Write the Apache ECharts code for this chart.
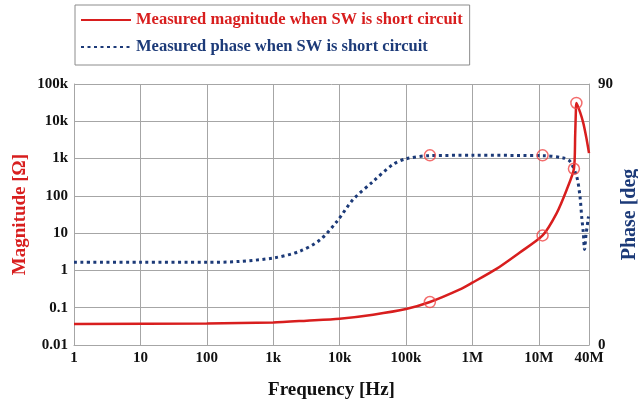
<!DOCTYPE html>
<html>
<head>
<meta charset="utf-8">
<script src="https://cdn.jsdelivr.net/npm/echarts@6/dist/echarts.min.js"></script>
<style>
  html, body { margin: 0; padding: 0; background: #fff; }
  #chart { width: 638px; height: 405px; }
</style>
</head>
<body>
<div id="chart"></div>
<script>
// frequency [Hz], magnitude [ohm]
var magnitude = [
    [1, 0.0366], [100, 0.0378], [1000, 0.0403], [3200, 0.045], [10000, 0.0507],
    [32000, 0.065], [100000, 0.092], [229000, 0.142], [650000, 0.31], [1e6, 0.47],
    [2.3e6, 1.1], [5e6, 2.9], [11.4e6, 8.67], [18.6e6, 34.6], [26.3e6, 146],
    [33.8e6, 533], [35.3e6, 4300], [36.2e6, 20000], [36.8e6, 31000], [41.7e6, 17800],
    [46.8e6, 8900], [52e6, 3600], [57e6, 1400]
];
// frequency [Hz], phase [deg]
var phase = [
    [1, 28.5], [10, 28.5], [100, 28.5], [300, 28.8], [1000, 30.0], [2500, 32.3],
    [5100, 36.3], [9100, 42.6], [15900, 50.1], [32000, 56.4], [63000, 62.2],
    [100000, 64.2], [229000, 65.3], [1e6, 65.4], [11.4e6, 65.3], [23.4e6, 64.5],
    [29.5e6, 63.3], [37.2e6, 58.1], [41.7e6, 51.2], [44.2e6, 44.3], [46.8e6, 38.7],
    [48.8e6, 32.9], [51.4e6, 38], [56e6, 44.3]
];
var magMarkers = [[229000, 0.142], [11.4e6, 8.67], [33.8e6, 533], [36.8e6, 31000]];
var phaseMarkers = [[229000, 65.4], [11.4e6, 65.4]];

var xTickLabels = ['1', '10', '100', '1k', '10k', '100k', '1M', '10M', '40M'];
var yTickLabels = ['0.01', '0.1', '1', '10', '100', '1k', '10k', '100k'];

var serif = '"Liberation Serif", "Times New Roman", serif';
var red = '#d81e1e';
var navy = '#1c3a78';
var gridGray = '#a6a6a6';

var magName = 'Measured magnitude when SW is short circuit';
var phaseName = 'Measured phase when SW is short circuit';

var chart = echarts.init(document.getElementById('chart'));
chart.setOption({
    animation: false,
    grid: { left: 74, right: 49, top: 84, bottom: 60, outerBoundsMode: 'none', containLabel: false },
    legend: {
        orient: 'vertical',
        left: 75,
        top: 5,
        padding: [5, 7, 8, 5],
        itemWidth: 50,
        itemHeight: 14,
        itemGap: 7,
        borderColor: '#8c8c8c',
        borderWidth: 1,
        borderRadius: 0,
        backgroundColor: '#fff',
        itemStyle: { opacity: 0 },
        textStyle: { fontFamily: serif, fontWeight: 'bold', fontSize: 16.5, lineHeight: 20 },
        data: [
            { name: magName, textStyle: { color: red } },
            { name: phaseName, textStyle: { color: navy } }
        ]
    },
    xAxis: {
        type: 'log',
        logBase: 10,
        min: 1,
        max: 5.7e7,
        name: 'Frequency [Hz]',
        nameLocation: 'middle',
        nameGap: 36,
        nameMoveOverlap: false,
        nameTextStyle: { fontFamily: serif, fontWeight: 'bold', fontSize: 19, color: '#111' },
        axisLine: { lineStyle: { color: gridGray } },
        axisTick: { show: false },
        splitLine: { show: true, lineStyle: { color: gridGray } },
        axisLabel: {
            fontFamily: serif, fontWeight: 'bold', fontSize: 15, color: '#111', margin: 6,
            showMaxLabel: true,
            formatter: function (v) {
                var k = Math.log10(v);
                if (k > 7.3) return xTickLabels[8];
                return xTickLabels[Math.round(k)];
            }
        }
    },
    yAxis: [{
        type: 'log',
        logBase: 10,
        min: 0.01,
        max: 100000,
        name: 'Magnitude [Ω]',
        nameLocation: 'middle',
        nameRotate: 90,
        nameGap: 44,
        nameMoveOverlap: false,
        nameTextStyle: { fontFamily: serif, fontWeight: 'bold', fontSize: 19, color: red },
        axisLine: { show: true, lineStyle: { color: gridGray } },
        axisTick: { show: false },
        splitLine: { show: true, lineStyle: { color: gridGray } },
        axisLabel: {
            fontFamily: serif, fontWeight: 'bold', fontSize: 15, color: '#111', margin: 6,
            formatter: function (v) {
                return yTickLabels[Math.round(Math.log10(v)) + 2];
            }
        }
    }, {
        type: 'value',
        min: 0,
        max: 90,
        interval: 90,
        position: 'right',
        name: 'Phase [deg',
        nameLocation: 'middle',
        nameRotate: 90,
        nameGap: 31,
        nameMoveOverlap: false,
        nameTextStyle: { fontFamily: serif, fontWeight: 'bold', fontSize: 20, color: navy },
        axisLine: { show: true, lineStyle: { color: gridGray } },
        axisTick: { show: false },
        splitLine: { show: false },
        axisLabel: { fontFamily: serif, fontWeight: 'bold', fontSize: 15, color: '#111', margin: 9 }
    }],
    series: [{
        name: magName,
        type: 'line',
        yAxisIndex: 0,
        data: magnitude,
        showSymbol: false,
        symbol: 'none',
        smooth: 0.25,
        lineStyle: { color: red, width: 2.5 },
        itemStyle: { color: red },
        z: 3
    }, {
        name: phaseName,
        type: 'line',
        yAxisIndex: 1,
        data: phase,
        showSymbol: false,
        symbol: 'none',
        smooth: 0.3,
        lineStyle: { color: navy, width: 3, type: [3, 3.5] },
        itemStyle: { color: navy },
        z: 2
    }, {
        type: 'scatter',
        yAxisIndex: 0,
        data: magMarkers,
        symbolSize: 11,
        itemStyle: { color: 'rgba(0,0,0,0)', borderColor: '#f04848', borderWidth: 1.5 },
        z: 4
    }, {
        type: 'scatter',
        yAxisIndex: 1,
        data: phaseMarkers,
        symbolSize: 11,
        itemStyle: { color: 'rgba(0,0,0,0)', borderColor: '#f04848', borderWidth: 1.5 },
        z: 4
    }]
});
</script>
</body>
</html>
